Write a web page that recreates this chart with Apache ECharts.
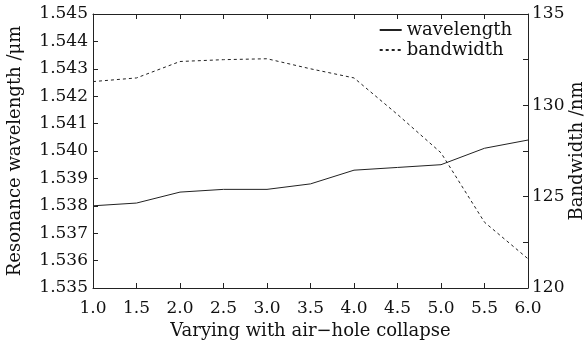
<!DOCTYPE html>
<html>
<head>
<meta charset="utf-8">
<script src="https://cdn.jsdelivr.net/npm/echarts@6/dist/echarts.min.js"></script>
<style>
html,body{margin:0;padding:0;background:#fff;}
#c{width:585px;height:342px;}
</style>
</head>
<body>
<div id="c"></div>
<script>
var xValues = [1.0, 1.5, 2.0, 2.5, 3.0, 3.5, 4.0, 4.5, 5.0, 5.5, 6.0];
var wavelength = [1.5380, 1.5381, 1.5385, 1.5386, 1.5386, 1.5388, 1.5393, 1.5394, 1.5395, 1.5401, 1.5404];
var bandwidth = [131.3, 131.5, 132.4, 132.5, 132.55, 132.0, 131.5, 129.5, 127.4, 123.6, 121.6];

var FONT = 'DejaVu Serif';
var TXT = '#111';
var AX = '#222';
var NUM = 17;
var TIT = 18;

function pairs(xs, ys){ return xs.map(function(x,i){ return [x, ys[i]]; }); }

var chart = echarts.init(document.getElementById('c'), null, {renderer:'canvas'});
chart.setOption({
  animation: false,
  backgroundColor: '#fff',
  textStyle: {fontFamily: FONT, color: TXT},
  grid: {left: 93, top: 14, right: 57, bottom: 54, containLabel: false, outerBoundsMode: 'none'},
  legend: {
    orient: 'vertical', right: 73, top: 21, padding: 0,
    itemWidth: 22, itemHeight: 10, itemGap: 2,
    itemStyle: {opacity: 0},
    textStyle: {fontFamily: FONT, fontSize: TIT, color: TXT},
    data: ['wavelength', 'bandwidth']
  },
  xAxis: [{
    type: 'value', min: 1, max: 6, interval: 0.5, position: 'bottom',
    name: 'Varying with air\u2212hole collapse', nameLocation: 'middle', nameGap: 34,
    nameTextStyle: {fontFamily: FONT, fontSize: TIT, color: TXT},
    axisLine: {show: true, lineStyle: {color: AX, width: 1}},
    axisTick: {show: true, inside: true, length: 5, lineStyle: {color: AX}},
    axisLabel: {fontFamily: FONT, fontSize: NUM, color: TXT, margin: 12,
      formatter: function(v){ return v.toFixed(1); }},
    splitLine: {show: false}
  }, {
    type: 'value', min: 1, max: 6, interval: 0.5, position: 'top',
    axisLine: {show: true, lineStyle: {color: AX, width: 1}},
    axisTick: {show: true, inside: true, length: 5, lineStyle: {color: AX}},
    axisLabel: {show: false}, splitLine: {show: false}
  }],
  yAxis: [{
    type: 'value', min: 1.535, max: 1.545, interval: 0.001, position: 'left',
    name: 'Resonance wavelength /\u03bcm', nameLocation: 'middle', nameGap: 69, nameRotate: 90,
    nameTextStyle: {fontFamily: FONT, fontSize: TIT, color: TXT},
    axisLine: {show: true, lineStyle: {color: AX, width: 1}},
    axisTick: {show: true, inside: true, length: 5, lineStyle: {color: AX}},
    axisLabel: {fontFamily: FONT, fontSize: NUM, color: TXT, margin: 5,
      formatter: function(v){ return v.toFixed(3); }},
    splitLine: {show: false}
  }, {
    type: 'value', min: 120, max: 135, interval: 2.5, position: 'right',
    name: 'Bandwidth /nm', nameLocation: 'middle', nameGap: 40, nameRotate: 90,
    nameMoveOverlap: false,
    nameTextStyle: {fontFamily: FONT, fontSize: TIT, color: TXT},
    axisLine: {show: true, lineStyle: {color: AX, width: 1}},
    axisTick: {show: true, inside: true, length: 5, lineStyle: {color: AX}},
    axisLabel: {fontFamily: FONT, fontSize: NUM, color: TXT, margin: 4,
      formatter: function(v){ return (Math.abs(v % 5) < 1e-9) ? String(v) : ''; }},
    splitLine: {show: false}
  }],
  series: [{
    name: 'wavelength', type: 'line', xAxisIndex: 0, yAxisIndex: 0,
    data: pairs(xValues, wavelength), symbol: 'none', smooth: false,
    lineStyle: {color: '#222', width: 1, type: 'solid'},
    itemStyle: {color: '#222'}
  }, {
    name: 'bandwidth', type: 'line', xAxisIndex: 0, yAxisIndex: 1,
    data: pairs(xValues, bandwidth), symbol: 'none', smooth: false,
    lineStyle: {color: '#222', width: 1, type: [3, 3]},
    itemStyle: {color: '#222'}
  }]
});
</script>
</body>
</html>
